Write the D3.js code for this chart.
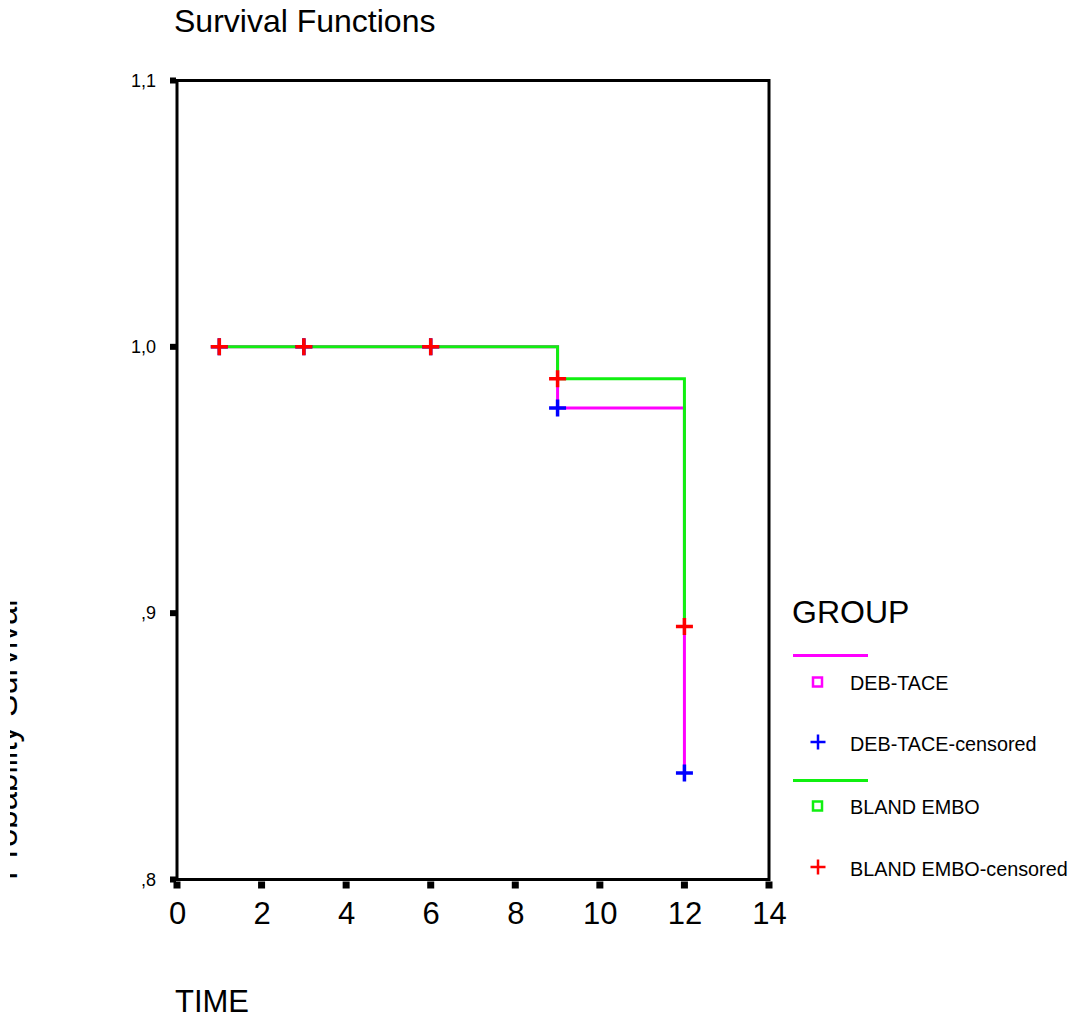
<!DOCTYPE html>
<html>
<head>
<meta charset="utf-8">
<script src="https://cdn.jsdelivr.net/npm/d3@7"></script>
<style>
  body { margin: 0; background: #fff; }
  svg { display: block; font-family: Arial, "Liberation Sans", sans-serif; }
</style>
</head>
<body>
<svg id="chart" width="1069" height="1018"></svg>
<script>
// survival steps (time, cumulative survival)
const debTime = [1, 9, 12];
const debSurv = [1.0, 0.977, 0.840];
const blandTime = [1, 9, 12];
const blandSurv = [1.0, 0.988, 0.895];

// censored cases
const debCensTime = [1, 3, 6, 9, 12];
const debCensSurv = [1.0, 1.0, 1.0, 0.977, 0.840];
const blandCensTime = [1, 3, 6, 9, 12];
const blandCensSurv = [1.0, 1.0, 1.0, 0.988, 0.895];

const xTicks = [0, 2, 4, 6, 8, 10, 12, 14];
const yTicks = [0.8, 0.9, 1.0, 1.1];
const yTickLabels = [",8", ",9", "1,0", "1,1"];

const legendItems = ["DEB-TACE", "DEB-TACE-censored", "BLAND EMBO", "BLAND EMBO-censored"];

const colDeb = "#ff00ff", colDebCens = "#0000ff";
const colBland = "#10f010", colBlandCens = "#ff0000";

const svg = d3.select("#chart");
const plot = { left: 177, right: 769, top: 80.5, bottom: 879.5 };

const x = d3.scaleLinear().domain([0, 14]).range([plot.left, plot.right]);
const y = d3.scaleLinear().domain([0.8, 1.1]).range([plot.bottom, plot.top]);

//title
svg.append("text")
  .attr("x", 174).attr("y", 32)
  .attr("font-size", 32)
  .text("Survival Functions");

//frame
svg.append("rect")
  .attr("x", plot.left).attr("y", plot.top)
  .attr("width", plot.right - plot.left)
  .attr("height", plot.bottom - plot.top)
  .attr("fill", "none")
  .attr("stroke", "#000")
  .attr("stroke-width", 3);

//y axis
const yAxis = svg.append("g")
  .attr("transform", `translate(${plot.left},0)`)
  .call(d3.axisLeft(y).tickValues(yTicks).tickSize(0).tickPadding(21)
    .tickFormat((d, i) => yTickLabels[i]));
yAxis.select(".domain").remove();
yAxis.selectAll("text").attr("font-size", 18).attr("font-family", null).attr("fill", "#000");
svg.selectAll(".ytick")
  .data(yTicks)
  .join("rect")
  .attr("x", plot.left - 7).attr("y", d => y(d) - 3)
  .attr("width", 6).attr("height", 6)
  .attr("fill", "#000");

//x axis
const xAxis = svg.append("g")
  .attr("transform", `translate(0,${plot.bottom})`)
  .call(d3.axisBottom(x).tickValues(xTicks).tickSize(0).tickPadding(22));
xAxis.select(".domain").remove();
xAxis.selectAll("text").attr("font-size", 31).attr("font-family", null).attr("fill", "#000");
svg.selectAll(".xtick")
  .data(xTicks)
  .join("rect")
  .attr("x", d => x(d) - 3.5).attr("y", plot.bottom + 2)
  .attr("width", 7).attr("height", 7)
  .attr("fill", "#000");

//axis titles
svg.append("text")
  .attr("x", 175).attr("y", 1012)
  .attr("font-size", 31)
  .text("TIME");

// y title is cropped at the left edge in the original
svg.append("clipPath").attr("id", "ylabClip")
  .append("rect").attr("x", 10).attr("y", 0).attr("width", 60).attr("height", 1018);
svg.append("g")
  .attr("clip-path", "url(#ylabClip)")
  .append("text")
  .attr("transform", "translate(17,880) rotate(-90)")
  .attr("font-size", 33)
  .text("Probability Survival");

//survival lines
const line = d3.line()
  .x(d => x(d[0]))
  .y(d => y(d[1]))
  .curve(d3.curveStepAfter);

svg.append("path")
  .datum(d3.zip(debTime, debSurv))
  .attr("d", line)
  .attr("fill", "none")
  .attr("stroke", colDeb)
  .attr("stroke-width", 3);

svg.append("path")
  .datum(d3.zip(blandTime, blandSurv))
  .attr("d", line)
  .attr("fill", "none")
  .attr("stroke", colBland)
  .attr("stroke-width", 3);

//censor marks
const plusPath = s => `M${-s},0H${s}M0,${-s}V${s}`;

function drawCensors(times, survs, color) {
  svg.append("g")
    .selectAll("path")
    .data(d3.zip(times, survs))
    .join("path")
    .attr("transform", d => `translate(${x(d[0])},${y(d[1])})`)
    .attr("d", plusPath(8.5))
    .attr("stroke", color)
    .attr("stroke-width", 3.5)
    .attr("fill", "none");
}
drawCensors(debCensTime, debCensSurv, colDebCens);
drawCensors(blandCensTime, blandCensSurv, colBlandCens);

//legend
const lg = svg.append("g");
lg.append("text")
  .attr("x", 792).attr("y", 623)
  .attr("font-size", 32)
  .text("GROUP");

const legendY = [690, 751, 814, 876];
const legendColors = [colDeb, colDebCens, colBland, colBlandCens];
const legendKinds = ["square", "plus", "square", "plus"];

[655.5, 780.5].forEach((ly, i) => {
  lg.append("line")
    .attr("x1", 793).attr("x2", 868)
    .attr("y1", ly).attr("y2", ly)
    .attr("stroke", i === 0 ? colDeb : colBland)
    .attr("stroke-width", 3);
});

legendItems.forEach((name, i) => {
  const cy = legendY[i] - 8;
  if (legendKinds[i] === "square") {
    lg.append("rect")
      .attr("x", 813).attr("y", cy - 4.5)
      .attr("width", 9).attr("height", 9)
      .attr("fill", "none")
      .attr("stroke", legendColors[i])
      .attr("stroke-width", 2.5);
  } else {
    lg.append("path")
      .attr("transform", `translate(818,${cy - 1})`)
      .attr("d", plusPath(7.5))
      .attr("stroke", legendColors[i])
      .attr("stroke-width", 2.5)
      .attr("fill", "none");
  }
  lg.append("text")
    .attr("x", 850).attr("y", legendY[i])
    .attr("font-size", 19.8)
    .text(name);
});
</script>
</body>
</html>
